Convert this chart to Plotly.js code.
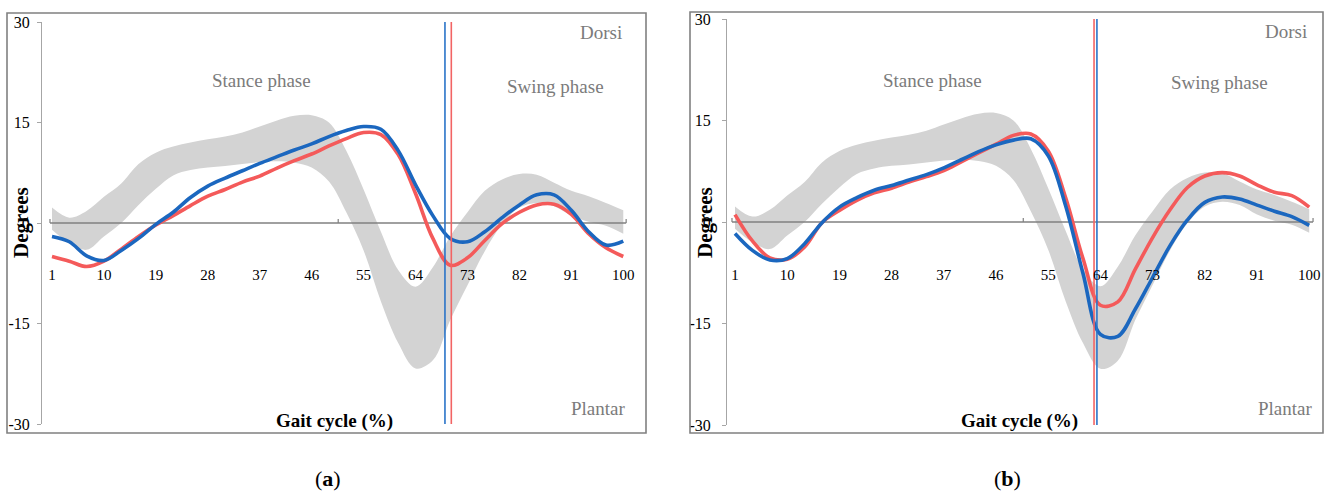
<!DOCTYPE html>
<html>
<head>
<meta charset="utf-8">
<script src="https://cdn.plot.ly/plotly-3.0.1.min.js"></script>
<style>html,body{margin:0;padding:0;background:#fff;}</style>
</head>
<body>
<div id="chart" style="width:1336px;height:495px;"></div>
<script>
// ---------- data ----------
const pct = [1,4,7,10,13,16,19,22,25,28,31,34,37,40,43,46,49,52,55,58,61,64,67,70,73,76,79,82,85,88,91,94,97,100];
const tickVals = [1,10,19,28,37,46,55,64,73,82,91,100];
const tickText = ['1','10','19','28','37','46','55','64','73','82','91','100'];
const yTickVals = [-30,-15,0,15,30];
const yTickText = ['-30','-15','0','15','30'];

// normative band (grey)
const normUpper = [2.3,0.8,1.8,3.9,5.9,8.8,10.5,11.4,12.0,12.5,12.9,13.5,14.4,15.3,16.0,16.1,15.0,10.8,5.0,-1.3,-7.0,-9.5,-6.6,-2.0,1.6,4.8,6.5,7.3,7.2,6.0,4.8,4.0,3.0,1.9];
const normLower = [-1.0,-3.0,-4.0,-2.0,0.0,2.7,5.1,7.1,7.9,8.3,8.5,8.8,9.1,9.2,9.0,8.3,6.2,1.6,-4.1,-11.7,-17.9,-21.7,-20.5,-14.5,-9.3,-4.2,-0.2,2.3,3.0,2.5,1.1,0.2,-0.4,-1.6];

// panel (a)
const aBlue = [-2.0,-2.8,-4.9,-5.6,-4.1,-2.3,-0.2,1.6,3.8,5.5,6.7,7.8,8.9,9.9,10.9,11.8,12.9,13.8,14.4,14.0,10.8,5.7,1.1,-2.3,-2.8,-1.3,0.8,2.7,4.2,4.2,1.9,-1.3,-3.3,-2.7];
const aRed  = [-5.0,-5.7,-6.5,-5.7,-3.9,-2.0,-0.3,1.1,2.6,4.0,5.0,6.1,7.0,8.2,9.3,10.3,11.5,12.6,13.5,13.2,10.2,4.4,-2.3,-6.3,-5.2,-2.6,-0.1,1.6,2.7,2.8,1.3,-1.6,-3.7,-5.0];
const aToeOff = [69.1, 70.2];   // [blue, red]

// panel (b)
const bBlue = [-1.7,-4.2,-5.6,-5.4,-3.2,-0.1,2.2,3.6,4.7,5.4,6.2,7.0,8.0,9.2,10.4,11.4,12.1,12.3,9.8,2.4,-7.6,-16.6,-16.9,-12.9,-8.2,-3.5,0.3,2.9,3.7,3.4,2.5,1.6,0.8,-0.5];
const bRed  = [1.1,-2.8,-5.3,-5.5,-3.7,-0.1,1.7,3.2,4.3,5.0,5.9,6.7,7.6,8.9,10.2,11.5,12.8,13.0,10.5,3.6,-5.4,-12.3,-11.8,-7.0,-2.3,1.8,5.1,6.8,7.3,6.8,5.5,4.4,3.9,2.2];
const bToeOff = [63.4, 62.9];   // [blue, red]

// ---------- styling helpers ----------
const W = 1336, H = 495;
const fx = p => p / W;
const fy = p => 1 - p / H;
const SERIF = 'Liberation Serif, Times New Roman, serif';
const BLUE = '#1b67bf', RED = '#f45a5a', VBLUE = '#2a74c8', VRED = '#f26464';
const GREY_TXT = '#7b7b7b';

function panelTraces(xa, ya, blue, red, toe, zl) {
  return [
    {x: pct, y: normLower, xaxis: xa, yaxis: ya, mode: 'lines', line: {width: 0, shape: 'spline', color: '#d3d3d3'}, hoverinfo: 'skip', showlegend: false},
    {x: pct, y: normUpper, xaxis: xa, yaxis: ya, mode: 'lines', fill: 'tonexty', fillcolor: '#d3d3d3', line: {width: 0, shape: 'spline', color: '#d3d3d3'}, hoverinfo: 'skip', showlegend: false},
    {x: zl, y: [0, 0], xaxis: xa, yaxis: ya, mode: 'lines', line: {width: 1.3, color: '#808080'}, hoverinfo: 'skip', showlegend: false},
    {x: pct, y: red, xaxis: xa, yaxis: ya, mode: 'lines', line: {width: 3.6, shape: 'spline', color: RED}, showlegend: false},
    {x: pct, y: blue, xaxis: xa, yaxis: ya, mode: 'lines', line: {width: 3.6, shape: 'spline', color: BLUE}, showlegend: false},
    {x: [toe[0], toe[0]], y: [-30, 30], xaxis: xa, yaxis: ya, mode: 'lines', line: {width: 1.6, color: VBLUE}, showlegend: false},
    {x: [toe[1], toe[1]], y: [-30, 30], xaxis: xa, yaxis: ya, mode: 'lines', line: {width: 1.6, color: VRED}, showlegend: false}
  ];
}

const zeroA = [0.65, 100.5];
const zeroB = [0.48, 100.66];

const data = [].concat(
  panelTraces('x', 'y', aBlue, aRed, aToeOff, zeroA),
  panelTraces('x2', 'y2', bBlue, bRed, bToeOff, zeroB)
);

function xAxis(dom, rng) {
  return {
    domain: dom, range: rng, anchor: 'free', position: fy(264),
    showgrid: false, zeroline: false, showline: false, ticks: '',
    tickmode: 'array', tickvals: tickVals, ticktext: tickText,
    tickfont: {family: SERIF, size: 15, color: '#000'}, fixedrange: true
  };
}
function yAxis(dom, anchor, standoff) {
  return {
    domain: dom, range: [-30, 30], anchor: anchor,
    showgrid: false, zeroline: false, showline: true, linecolor: '#a6a6a6', linewidth: 1,
    ticks: 'outside', ticklen: 4, tickcolor: '#a6a6a6', tickwidth: 1,
    tickmode: 'array', tickvals: yTickVals, ticktext: yTickText,
    ticklabelstandoff: standoff,
    tickfont: {family: SERIF, size: 16, color: '#000'}, fixedrange: true
  };
}

function txt(x, y, t, opts) {
  return Object.assign({
    xref: 'paper', yref: 'paper', x: fx(x), y: fy(y), text: t, showarrow: false,
    xanchor: 'center', yanchor: 'middle',
    font: {family: SERIF, size: 19, color: GREY_TXT}
  }, opts || {});
}
const bold19 = {font: {family: SERIF, size: 19, color: '#000'}};
const bold21 = {font: {family: SERIF, size: 21, color: '#000'}};
const bold22 = {font: {family: SERIF, size: 22, color: '#000'}};

const annotations = [
  txt(261, 81, 'Stance phase'), txt(555, 86, 'Swing phase'),
  txt(601, 33, 'Dorsi'), txt(598, 408, 'Plantar'),
  txt(334, 421, '<b>Gait cycle (%)</b>', bold19),
  txt(21, 223, '<b>Degrees</b>', Object.assign({textangle: -90}, bold21)),
  txt(932, 80, 'Stance phase'), txt(1219, 83, 'Swing phase'),
  txt(1286, 32, 'Dorsi'), txt(1285, 408, 'Plantar'),
  txt(1019, 421, '<b>Gait cycle (%)</b>', bold19),
  txt(705, 223, '<b>Degrees</b>', Object.assign({textangle: -90}, bold21)),
  txt(328, 478, '(<b>a</b>)', bold22),
  txt(1008, 478, '(<b>b</b>)', bold22)
];

function tick(xa, ya, xv) {
  return {type: 'line', xref: xa, yref: ya, x0: xv, x1: xv, y0: 0, y1: 0.6, line: {color: '#808080', width: 1.2}};
}
const shapes = [
  {type: 'rect', xref: 'paper', yref: 'paper', x0: fx(7), x1: fx(646), y0: fy(433), y1: fy(13), line: {color: '#808080', width: 1.6}, fillcolor: 'rgba(0,0,0,0)'},
  {type: 'rect', xref: 'paper', yref: 'paper', x0: fx(690), x1: fx(1323), y0: fy(433), y1: fy(12), line: {color: '#808080', width: 1.6}, fillcolor: 'rgba(0,0,0,0)'},
  tick('x', 'y', 0.65), tick('x', 'y', 50.6), tick('x', 'y', 100.5),
  tick('x2', 'y2', 0.48), tick('x2', 'y2', 50.7), tick('x2', 'y2', 100.66)
];

const layout = {
  width: W, height: H,
  margin: {l: 0, r: 0, t: 0, b: 0},
  paper_bgcolor: '#fff', plot_bgcolor: 'rgba(0,0,0,0)',
  showlegend: false,
  xaxis: xAxis([fx(42), fx(640)], [-0.733, 102.9]),
  yaxis: yAxis([fy(424), fy(22)], 'x', 4),
  xaxis2: xAxis([fx(727), fx(1320)], [-0.379, 101.86]),
  yaxis2: yAxis([fy(425), fy(19)], 'x2', 8),
  annotations: annotations,
  shapes: shapes
};

Plotly.newPlot('chart', data, layout, {displayModeBar: false, staticPlot: true});
</script>
</body>
</html>
